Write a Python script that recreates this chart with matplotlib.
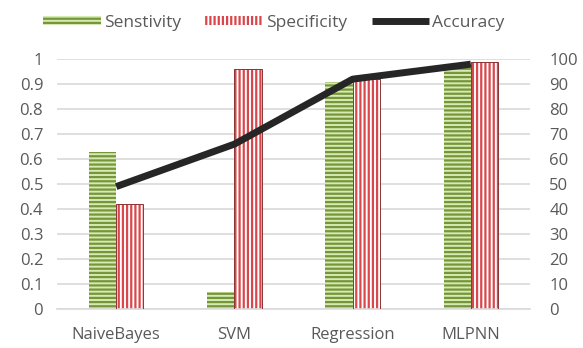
import matplotlib.pyplot as plt
import numpy as np

# data
models = ["NaiveBayes", "SVM", "Regression", "MLPNN"]
sensitivity = [0.63, 0.07, 0.91, 0.97]
specificity = [0.42, 0.96, 0.92, 0.99]
accuracy = [49, 66, 92, 98]
left_ticks = [0, 0.1, 0.2, 0.3, 0.4, 0.5, 0.6, 0.7, 0.8, 0.9, 1]
left_labels = ["0", "0.1", "0.2", "0.3", "0.4", "0.5", "0.6", "0.7", "0.8", "0.9", "1"]
right_ticks = [0, 10, 20, 30, 40, 50, 60, 70, 80, 90, 100]

TXT = "#595959"
plt.rcParams["font.family"] = ["Open Sans", "DejaVu Sans"]
plt.rcParams["hatch.linewidth"] = 1.6

fig = plt.figure(figsize=(5.83, 3.48), dpi=100)
ax = fig.add_axes([0.098, 0.112, 0.811, 0.718])

x = np.arange(len(models))
w = 0.23
b1 = ax.bar(x - w / 2, sensitivity, w, color="#d7eab4", edgecolor="#76963a",
            hatch="----", linewidth=0, label="Senstivity", zorder=2)
b2 = ax.bar(x + w / 2, specificity, w, color="white", edgecolor="#d9464b",
            hatch="||||", linewidth=0, label="Specificity", zorder=2)
for r in b2:
    ax.add_patch(plt.Rectangle(r.get_xy(), r.get_width(), r.get_height(),
                               fill=False, edgecolor="#8a3434", linewidth=0.7, zorder=3))

ax.set_xlim(-0.5, 3.5)
ax.set_ylim(0, 1)
ax.set_yticks(left_ticks)
ax.set_yticklabels(left_labels)
ax.set_xticks(x)
ax.set_xticklabels(models)
ax.grid(axis="y", color="#d9d9d9", linewidth=1.2, zorder=0)
ax.set_axisbelow(True)
for s in ["top", "right", "left"]:
    ax.spines[s].set_visible(False)
ax.spines["bottom"].set_color("#d9d9d9")
ax.spines["bottom"].set_linewidth(1.2)
ax.tick_params(length=0, labelsize=12, colors=TXT, pad=10)
ax.tick_params(axis="x", pad=13)

ax2 = ax.twinx()
ln, = ax2.plot(x, accuracy, color="#262626", linewidth=5, label="Accuracy",
               solid_capstyle="butt", zorder=5)
ax2.set_ylim(0, 100)
ax2.set_yticks(right_ticks)
for s in ["top", "right", "left", "bottom"]:
    ax2.spines[s].set_visible(False)
ax2.tick_params(length=0, labelsize=12, colors=TXT, pad=14)

fig.legend(handles=[b1, b2, ln], loc="center", bbox_to_anchor=(0.47, 0.935),
           ncol=3, frameon=False, fontsize=12.5, labelcolor=TXT,
           handlelength=3.3, handleheight=0.5, handletextpad=0.2, columnspacing=1.4)

fig.savefig("out.png", dpi=100)
